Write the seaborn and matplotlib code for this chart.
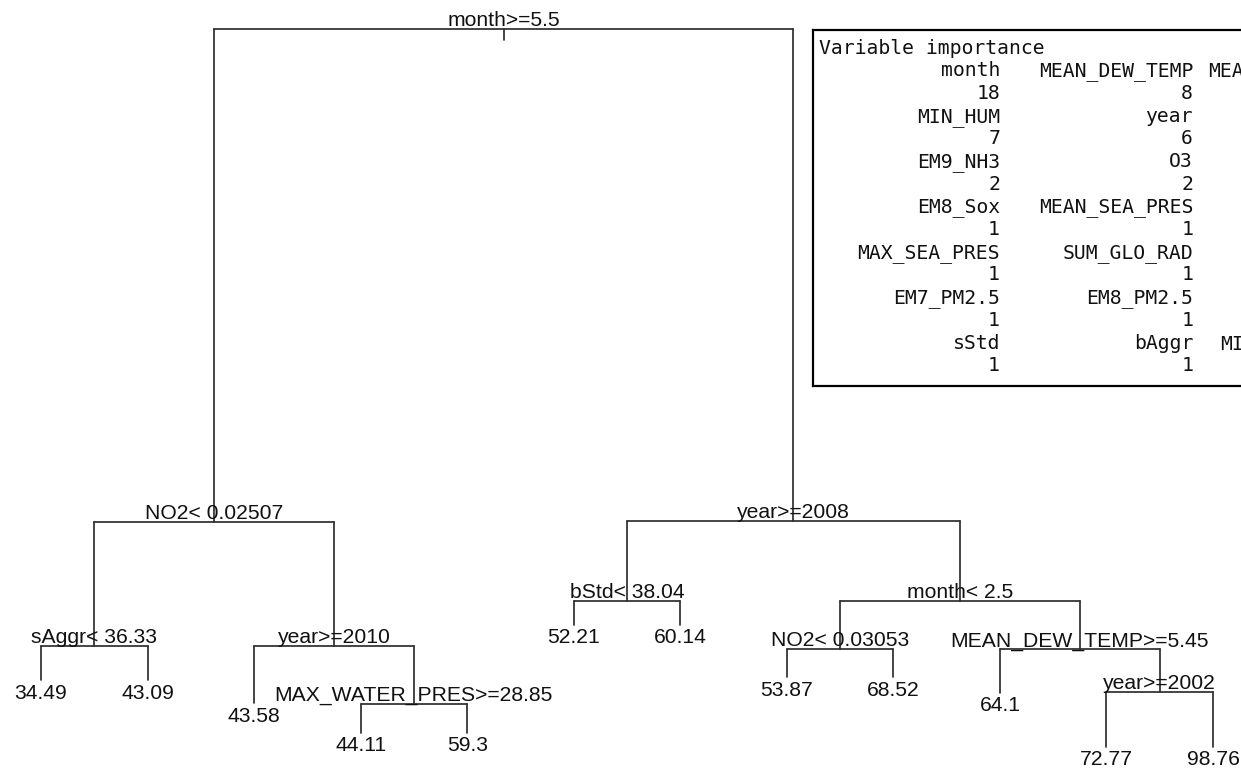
import numpy as np
import pandas as pd
import matplotlib
matplotlib.use("Agg")
import matplotlib.pyplot as plt
import seaborn as sns

# ---------------- data: regression tree (rpart) ----------------
node_labels = [
    "month>=5.5",
    "NO2< 0.02507",
    "sAggr< 36.33", "34.49", "43.09",
    "year>=2010", "43.58",
    "MAX_WATER_PRES>=28.85", "44.11", "59.3",
    "year>=2008",
    "bStd< 38.04", "52.21", "60.14",
    "month< 2.5",
    "NO2< 0.03053", "53.87", "68.52",
    "MEAN_DEW_TEMP>=5.45", "64.1",
    "year>=2002", "72.77", "98.76",
]
node_parent = [-1, 0, 1, 2, 2, 1, 5, 5, 7, 7, 0, 10, 11, 11, 10, 14, 15, 15, 14, 18, 18, 20, 20]
# node heights (deviance based, root = 1)
node_height = [1.000, 0.334, 0.166, 0.120, 0.120, 0.166, 0.089, 0.088, 0.049, 0.049,
               0.335, 0.227, 0.195, 0.195, 0.227, 0.162, 0.124, 0.124, 0.162, 0.103,
               0.104, 0.030, 0.030]

# ---------------- data: variable importance printout ----------------
imp_title = "Variable importance"
imp_col1_names = ["month", "MIN_HUM", "EM9_NH3", "EM8_Sox", "MAX_SEA_PRES", "EM7_PM2.5", "sStd"]
imp_col1_values = ["18", "7", "2", "1", "1", "1", "1"]
imp_col2_names = ["MEAN_DEW_TEMP", "year", "O3", "MEAN_SEA_PRES", "SUM_GLO_RAD", "EM8_PM2.5", "bAggr"]
imp_col2_values = ["8", "6", "2", "1", "1", "1", "1"]
imp_col3_names = ["MEAN_WATER_PRES", "", "", "", "", "", "MIN_WATER_PRES"]

# ---------------- layout of the tree (rpart style) ----------------
n = len(node_labels)
children = {i: [] for i in range(n)}
for i, p in enumerate(node_parent):
    if p >= 0:
        children[p].append(i)
leaves = [i for i in range(n) if not children[i]]
xpos = {}
for k, leaf in enumerate(leaves):
    xpos[leaf] = k + 1.0
for i in reversed(range(n)):
    if children[i]:
        xpos[i] = np.mean([xpos[c] for c in children[i]])
ypos = {i: node_height[i] for i in range(n)}

rows = []
seg = 0
for i in range(n):
    if children[i]:
        l, r = children[i]
        rows += [(seg, xpos[l], ypos[i]), (seg, xpos[r], ypos[i])]
        seg += 1
    p = node_parent[i]
    if p >= 0:
        rows += [(seg, xpos[i], ypos[p]), (seg, xpos[i], ypos[i])]
        seg += 1
rows += [(seg, xpos[0], ypos[0]), (seg, xpos[0], ypos[0] - 0.015)]
seg_df = pd.DataFrame(rows, columns=["seg", "x", "y"])

# ---------------- drawing ----------------
sns.set_theme(style="white")
plt.rcParams["font.family"] = ["Liberation Sans", "DejaVu Sans"]

fig = plt.figure(figsize=(12.41, 7.69), dpi=100)
ax = fig.add_axes([0, 0, 1, 1])
sns.lineplot(data=seg_df, x="x", y="y", units="seg", estimator=None, sort=False,
             color="#2e2e2e", lw=1.25, ax=ax, legend=False)
ax.set_xlim(0.6152, 12.2628)
ax.set_ylim(0.0, 769 / 740)
ax.axis("off")

txt_color = "#111111"
for i in range(n):
    if children[i]:
        ax.annotate(node_labels[i], (xpos[i], ypos[i]), xytext=(0, 2.0),
                    textcoords="offset points", ha="center", va="baseline",
                    fontsize=15.2, color=txt_color)
    else:
        ax.annotate(node_labels[i], (xpos[i], ypos[i]), xytext=(0, -2.6),
                    textcoords="offset points", ha="center", va="top",
                    fontsize=15.2, color=txt_color)

# variable importance box (pixel-based layout inside its own axes)
W, H = 1241, 769
bl, bt, bb, br = 813, 30, 386, 1420
bax = fig.add_axes([bl / W, (H - bb) / H, (br - bl) / W, (bb - bt) / H])
bax.set_xlim(bl, br)
bax.set_ylim(bb, bt)
bax.set_xticks([])
bax.set_yticks([])
for s in bax.spines.values():
    s.set_color("black")
    s.set_linewidth(1.6)
bax.patch.set_alpha(0)

mono = dict(family=["DejaVu Sans Mono"], fontsize=14.2, color=txt_color, va="baseline")
base0, step = 53.5, 22.7
bax.text(819, base0, imp_title, ha="left", clip_on=False, **mono)
col_right = [1000, 1193, 1386]
cols = [(imp_col1_names, imp_col1_values), (imp_col2_names, imp_col2_values),
        (imp_col3_names, [""] * len(imp_col3_names))]
for c, (names, vals) in enumerate(cols):
    for r in range(len(names)):
        y_name = base0 + step * (1 + 2 * r)
        y_val = base0 + step * (2 + 2 * r)
        if names[r]:
            bax.text(col_right[c], y_name, names[r], ha="right", clip_on=False, **mono)
        if vals[r]:
            bax.text(col_right[c], y_val, vals[r], ha="right", clip_on=False, **mono)

fig.savefig("out.png", dpi=100)
